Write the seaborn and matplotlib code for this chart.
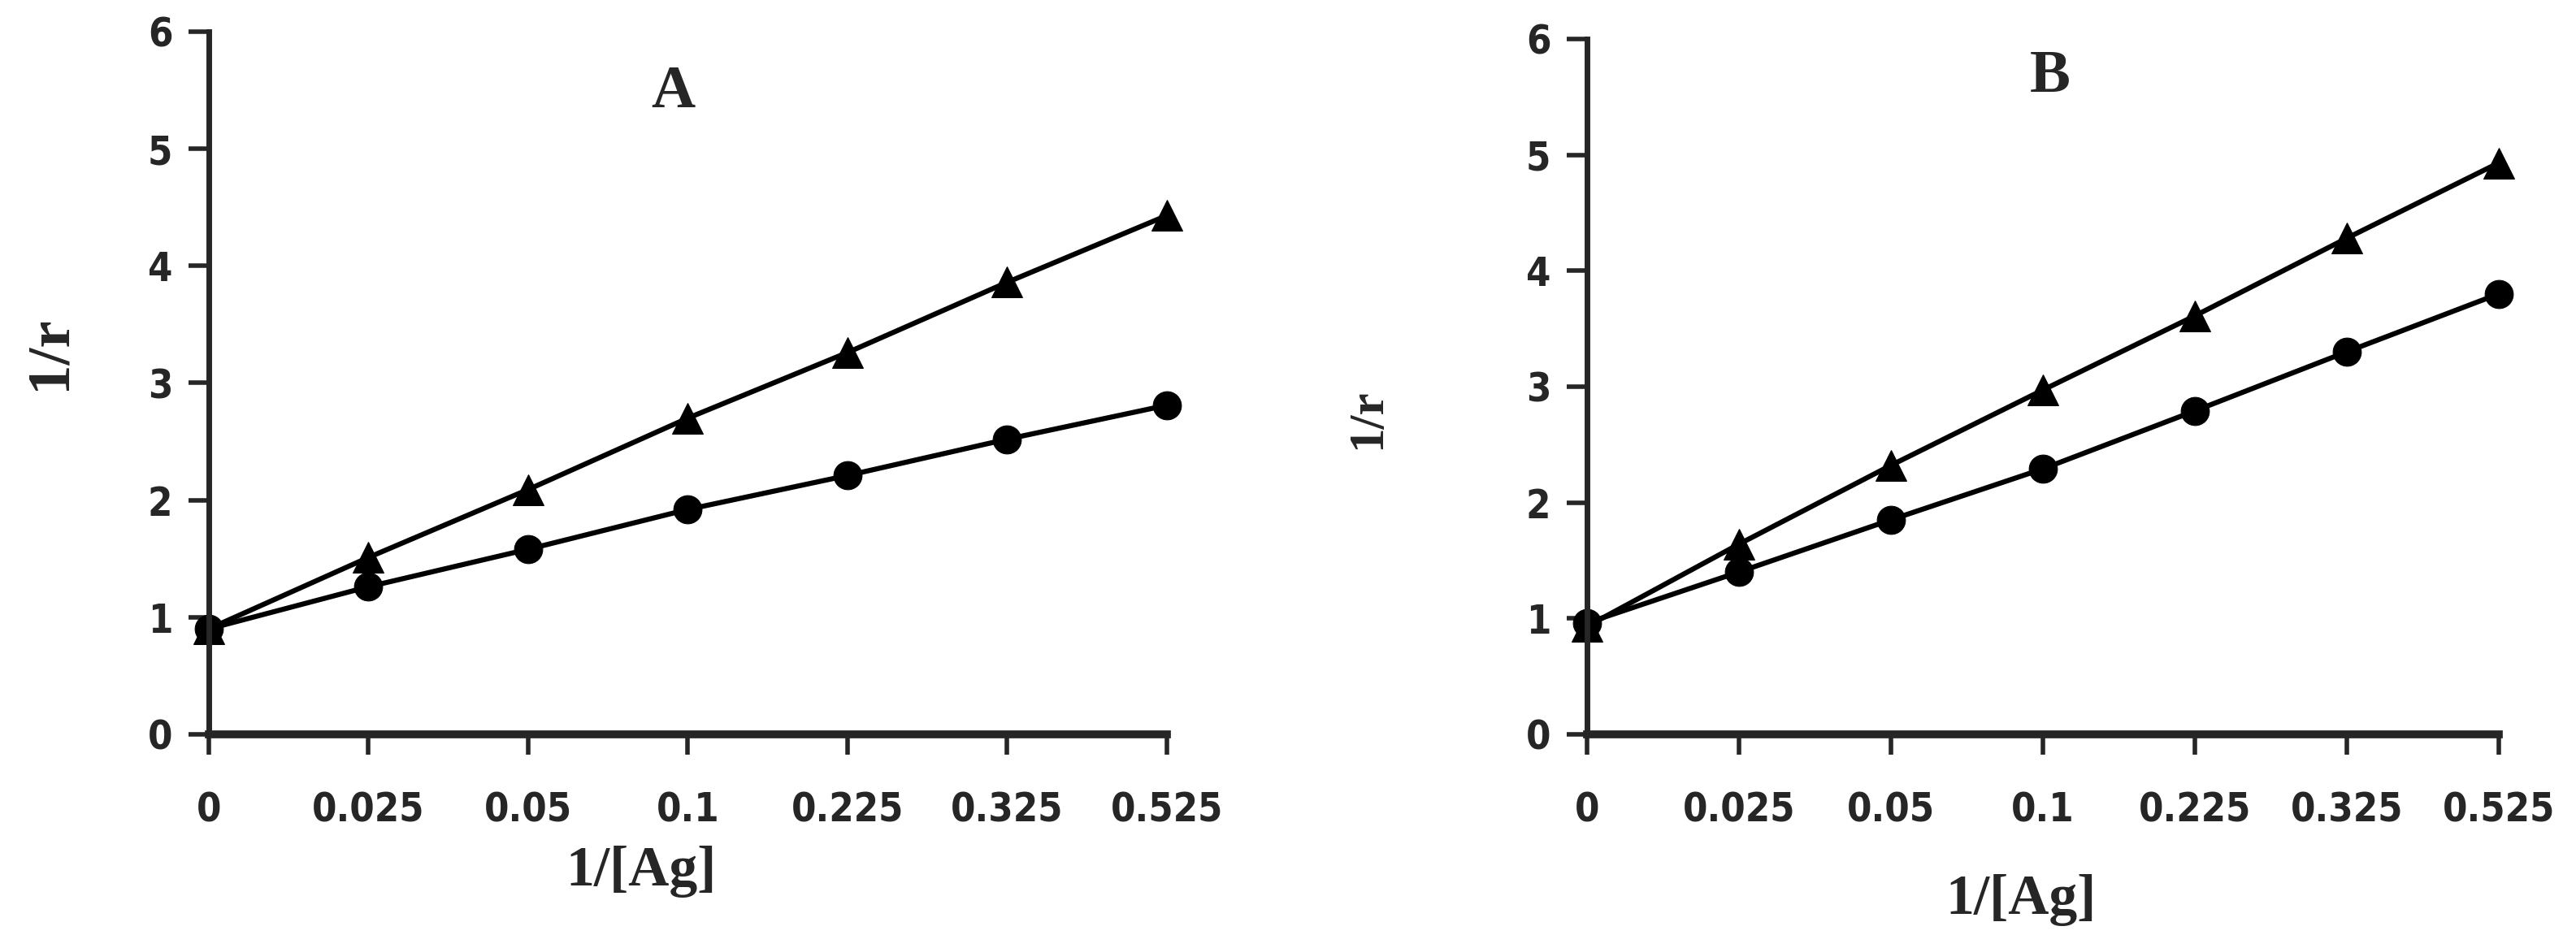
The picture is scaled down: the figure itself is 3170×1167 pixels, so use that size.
import pandas as pd
import seaborn as sns
import matplotlib.pyplot as plt

sns.set_style("ticks")

# x categories (equally spaced on the chart)
inv_ag = ["0", "0.025", "0.05", "0.1", "0.225", "0.325", "0.525"]

# panel A
a_triangle = [0.90, 1.51, 2.09, 2.70, 3.26, 3.86, 4.43]
a_circle = [0.90, 1.26, 1.58, 1.92, 2.21, 2.52, 2.81]

# panel B
b_triangle = [0.93, 1.64, 2.32, 2.97, 3.61, 4.28, 4.93]
b_circle = [0.96, 1.40, 1.85, 2.29, 2.79, 3.30, 3.80]

y_ticks = [0, 1, 2, 3, 4, 5, 6]

serif = ["Liberation Serif", "DejaVu Serif"]
tick_font = {"family": "DejaVu Sans", "weight": "bold", "stretch": "condensed", "size": 35}

fig = plt.figure(figsize=(31.7, 11.67), dpi=100)
ax_a = fig.add_axes([0.081, 0.2254, 0.372, 0.7412])
ax_b = fig.add_axes([0.616, 0.2254, 0.354, 0.7336])

panels = [
    (ax_a, a_triangle, a_circle, "A", (2.91, 5.48), (-0.166, 0.543), (0.451, -0.195), 54),
    (ax_b, b_triangle, b_circle, "B", (3.05, 5.67), (-0.24, 0.453), (0.476, -0.238), 44),
]

for ax, tri, circ, letter, letter_pos, ylab_pos, xlab_pos, ylab_size in panels:
    df = pd.DataFrame({"x": inv_ag, "tri": tri, "circ": circ})
    sns.lineplot(data=df, x="x", y="circ", ax=ax, color="black", linewidth=4.5,
                 marker="o", markersize=25, markeredgecolor="black", sort=False,
                 clip_on=False)
    sns.lineplot(data=df, x="x", y="tri", ax=ax, color="black", linewidth=4.5,
                 marker="^", markersize=28, markeredgecolor="black", sort=False,
                 clip_on=False)

    ax.set_xlim(0, 6)
    ax.set_ylim(0, 6)
    ax.set_yticks(y_ticks)
    ax.set_yticklabels([str(t) for t in y_ticks], fontdict=tick_font)
    ax.set_xticks(range(len(inv_ag)))
    ax.set_xticklabels(inv_ag, fontdict=tick_font)
    ax.tick_params(axis="x", direction="out", length=18, width=4, pad=32)
    ax.tick_params(axis="y", direction="out", length=18, width=4, pad=14)

    sns.despine(ax=ax)
    ax.spines["left"].set_linewidth(5)
    ax.spines["bottom"].set_linewidth(7)

    ax.set_xlabel("1/[Ag]", fontsize=50, fontweight="bold", family=serif, va="center")
    ax.xaxis.set_label_coords(*xlab_pos)
    ax.set_ylabel("1/r", fontsize=ylab_size, fontweight="bold", family=serif, va="center")
    ax.yaxis.set_label_coords(*ylab_pos)

    ax.text(letter_pos[0], letter_pos[1], letter, fontsize=54, fontweight="bold",
            family=serif, ha="center", va="center")

fig.savefig("out.png", dpi=100, facecolor="white")
